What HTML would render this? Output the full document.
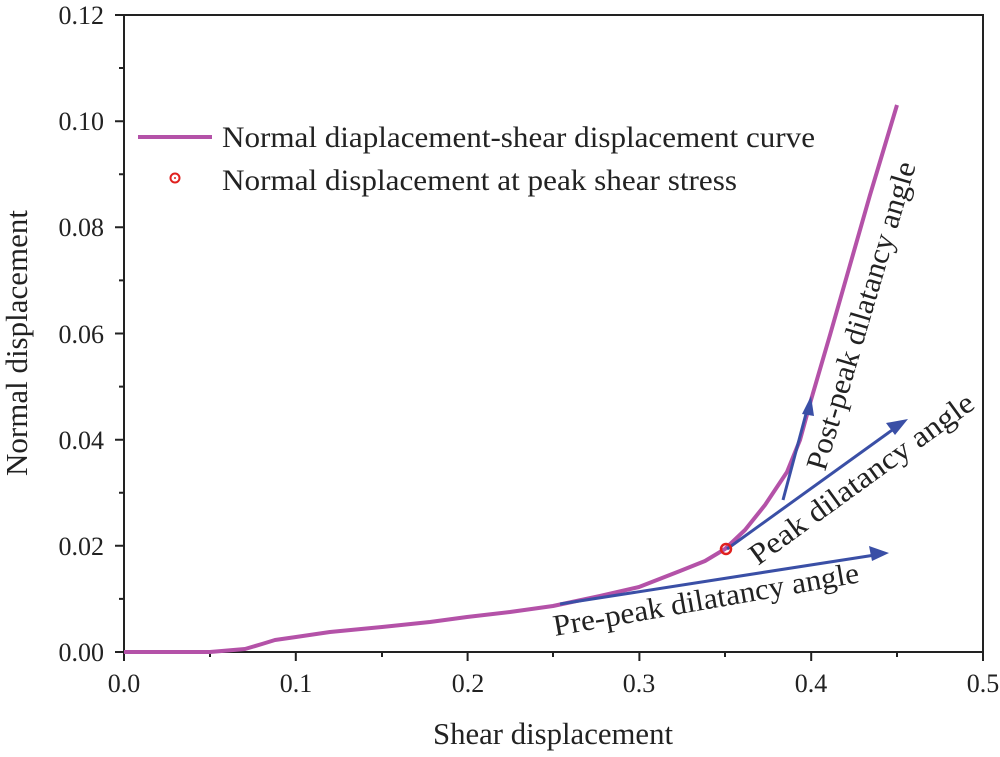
<!DOCTYPE html>
<html><head><style>body{margin:0;background:#fff}</style></head><body>
<svg width="1000" height="752" xmlns="http://www.w3.org/2000/svg" font-family="'Liberation Serif', serif" fill="#222">
<rect width="1000" height="752" fill="#fff"/>
<g stroke="#222" stroke-width="2" fill="none">
<rect x="124" y="15" width="859" height="637"/>
<path d="M124 652v9M295.8 652v9M467.6 652v9M639.4 652v9M811.2 652v9M983 652v9"/>
<path d="M210 652v5M382 652v5M553 652v5M725 652v5M897 652v5"/>
<path d="M124 652h-9M124 545.8h-9M124 439.7h-9M124 333.5h-9M124 227.3h-9M124 121.2h-9M124 15h-9"/>
<path d="M124 598.9h-5M124 492.8h-5M124 386.6h-5M124 280.4h-5M124 174.3h-5M124 68h-5"/>
</g>
<g font-size="26" text-anchor="end">
<text x="104" y="661">0.00</text><text x="104" y="555">0.02</text><text x="104" y="449">0.04</text>
<text x="104" y="343">0.06</text><text x="104" y="236">0.08</text><text x="104" y="130">0.10</text><text x="104" y="24">0.12</text>
</g>
<g font-size="26" text-anchor="middle">
<text x="124" y="692">0.0</text><text x="296" y="692">0.1</text><text x="468" y="692">0.2</text>
<text x="639" y="692">0.3</text><text x="811" y="692">0.4</text><text x="983" y="692">0.5</text>
<text x="553" y="744" font-size="31" textLength="240" lengthAdjust="spacingAndGlyphs">Shear displacement</text>
<text transform="translate(27,343) rotate(-90)" font-size="31">Normal displacement</text>
</g>
<path d="M124 652L210 652L245 649L262 644L275 640L296 637L330 632L382 627L430 622L467 617L510 612L553 606L600 596L639 587L680 571L705 561L725 549L745 530L765 505L787 472L800 440L811 400L830 335L850 265L870 195L885 145L897 105" fill="none" stroke="#b452a8" stroke-width="4" stroke-linejoin="round"/>
<g stroke="#3a4fa6" stroke-width="3" fill="none">
<path d="M560 604L875 555"/><path d="M727 549L895 428"/><path d="M783 500L807 410"/>
</g>
<g fill="#3a4fa6">
<polygon points="889,553 869,546 872,561"/>
<polygon points="908,419 886,423 895,435"/>
<polygon points="811,396 802,414 814,416"/>
</g>
<circle cx="726" cy="549" r="5" fill="none" stroke="#e0201e" stroke-width="2.5"/>
<g font-size="30">
<text transform="translate(555,636) rotate(-10)" textLength="310" lengthAdjust="spacingAndGlyphs">Pre-peak dilatancy angle</text>
<text transform="translate(758,566) rotate(-36)" textLength="270" lengthAdjust="spacingAndGlyphs">Peak dilatancy angle</text>
<text transform="translate(825,472) rotate(-73.5)" textLength="320" lengthAdjust="spacingAndGlyphs">Post-peak dilatancy angle</text>
</g>
<line x1="138" y1="137" x2="212" y2="137" stroke="#b452a8" stroke-width="4"/>
<circle cx="175" cy="178" r="4.5" fill="none" stroke="#e0201e" stroke-width="2"/>
<circle cx="175" cy="178" r="1" fill="#e0201e"/>
<g font-size="30"><text x="222" y="147" textLength="593" lengthAdjust="spacingAndGlyphs">Normal diaplacement-shear displacement curve</text>
<text x="222" y="190" textLength="515" lengthAdjust="spacingAndGlyphs">Normal displacement at peak shear stress</text></g>
</svg>
</body></html>
